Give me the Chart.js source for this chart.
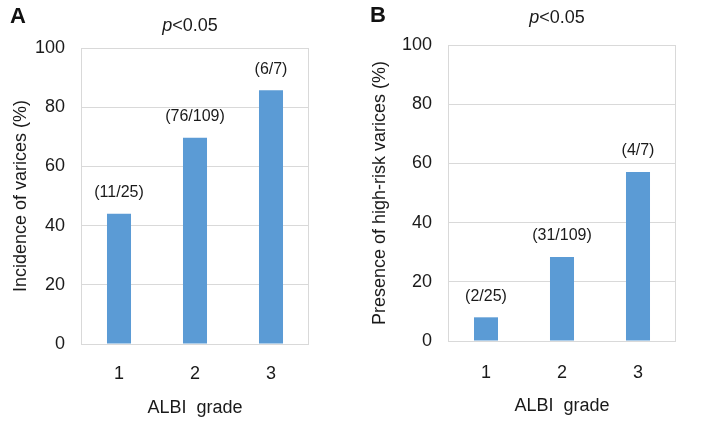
<!DOCTYPE html>
<html>
<head>
<meta charset="utf-8">
<script src="https://cdn.jsdelivr.net/npm/chart.js@4.4.1/dist/chart.umd.min.js"></script>
<style>
    body { margin: 0; background: #fff; font-family: "Liberation Sans", Arial, sans-serif; }
    #wrap { position: relative; width: 708px; height: 421px; overflow: hidden; }
    .panel { position: absolute; top: 0; width: 354px; height: 421px; }
    .letter { position: absolute; font-weight: bold; font-size: 22px; line-height: 1; color: #111; }
    .ptitle { position: absolute; font-size: 18px; line-height: 1; color: #1a1a1a; transform: translate(-50%, -50%); white-space: nowrap; }
</style>
</head>
<body>
<div id="wrap">
    <div class="panel" style="left:0"><canvas id="chartA" width="354" height="421"></canvas></div>
    <div class="panel" style="left:354px"><canvas id="chartB" width="354" height="421"></canvas></div>
    <div class="letter" style="left:10px; top:5px">A</div>
    <div class="letter" style="left:370px; top:4px">B</div>
    <div class="ptitle" style="left:190px; top:25px"><i>p</i>&lt;0.05</div>
    <div class="ptitle" style="left:557px; top:17px"><i>p</i>&lt;0.05</div>
</div>
<script>
// Data
const grades = ['1', '2', '3'];
const varicesPct = [44.0, 69.7, 85.7];
const varicesLabels = ['(11/25)', '(76/109)', '(6/7)'];
const highRiskPct = [8.0, 28.4, 57.1];
const highRiskLabels = ['(2/25)', '(31/109)', '(4/7)'];
const yTickStep = 20;
const yMax = 100;

const FONT = '"Liberation Sans", Arial, sans-serif';
const TEXT = '#1a1a1a';
const GRID = '#d9d9d9';
const BAR = '#5b9bd5';

// light grey box around the plot + the (n/N) labels above the bars
const boxAndLabels = {
    id: 'boxAndLabels',
    beforeDatasetsDraw(chart) {
        const a = chart.chartArea;
        const ctx = chart.ctx;
        ctx.save();
        ctx.strokeStyle = GRID;
        ctx.lineWidth = 1;
        ctx.strokeRect(Math.round(a.left) + 0.5, Math.round(a.top) + 0.5,
            Math.round(a.right - a.left) - 1, Math.round(a.bottom - a.top));
        ctx.restore();
    },
    afterDatasetsDraw(chart, args, opts) {
        const ctx = chart.ctx;
        const meta = chart.getDatasetMeta(0);
        ctx.save();
        ctx.font = '16px ' + FONT;
        ctx.fillStyle = TEXT;
        ctx.textAlign = 'center';
        ctx.textBaseline = 'middle';
        meta.data.forEach((bar, i) => {
            ctx.fillText(opts.labels[i], bar.x, bar.y - 21);
        });
        ctx.restore();
    }
};

function makeChart(id, values, labels, yTitle, geo) {
    return new Chart(document.getElementById(id), {
        type: 'bar',
        data: {
            labels: grades,
            datasets: [{
                data: values,
                backgroundColor: BAR,
                borderWidth: 0,
                categoryPercentage: 1,
                barPercentage: 0.316
            }]
        },
        options: {
            responsive: false,
            animation: false,
            layout: { padding: { left: geo.padLeft, right: geo.padRight, top: geo.padTop, bottom: 0 } },
            plugins: {
                legend: { display: false },
                tooltip: { enabled: false },
                boxAndLabels: { labels: labels }
            },
            scales: {
                x: {
                    grid: { display: false, drawTicks: false },
                    border: { display: false },
                    ticks: { font: { family: FONT, size: 18 }, color: TEXT, padding: geo.xTickPad },
                    title: {
                        display: true, text: 'ALBI  grade', color: TEXT,
                        font: { family: FONT, size: 18 }, padding: { top: 0, bottom: geo.xTitlePad }
                    },
                    afterFit(scale) { scale.height = geo.xHeight; }
                },
                y: {
                    min: 0,
                    max: yMax,
                    ticks: { stepSize: yTickStep, font: { family: FONT, size: 18 }, color: TEXT, padding: 16 },
                    grid: { color: GRID, drawTicks: false },
                    border: { display: false },
                    title: {
                        display: true, text: yTitle, color: TEXT,
                        font: { family: FONT, size: 18 }, padding: { top: 0, bottom: 0 }
                    },
                    afterFit(scale) { scale.width = geo.yWidth; }
                }
            }
        },
        plugins: [boxAndLabels]
    });
}

makeChart('chartA', varicesPct, varicesLabels, 'Incidence of varices (%)',
    { padLeft: 10, padRight: 45, padTop: 48, yWidth: 71, xHeight: 77, xTickPad: 19, xTitlePad: 2 });
makeChart('chartB', highRiskPct, highRiskLabels, 'Presence of high-risk varices (%)',
    { padLeft: 15, padRight: 32, padTop: 45, yWidth: 79, xHeight: 80, xTickPad: 21, xTitlePad: 4 });
</script>
</body>
</html>
